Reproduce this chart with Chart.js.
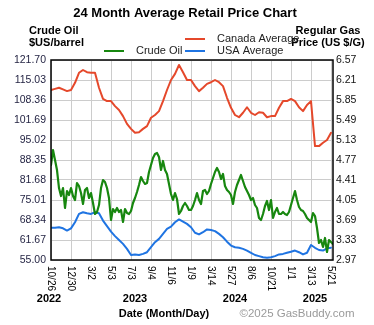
<!DOCTYPE html>
<html>
<head>
<meta charset="utf-8">
<title>24 Month Average Retail Price Chart</title>
<script src="https://cdn.jsdelivr.net/npm/chart.js@4.4.1/dist/chart.umd.min.js"></script>
<style>
  html, body { margin: 0; padding: 0; background: #fff; }
  canvas { display: block; }
</style>
</head>
<body>
<canvas id="chart" width="374" height="325"></canvas>
<script>
// date labels along the bottom, one every 10 steps of the x index
const dateLabels = ['10/26', '12/30', '3/2', '5/3', '7/3', '9/4', '11/6', '1/9', '3/14', '5/27', '8/6', '10/21', '1/1', '3/13', '5/21']
const yearLabels = ['2022', '2023', '2024', '2025']
const yearAt = [-1, 42, 92, 132]

const oilTicks = [55.00, 61.67, 68.34, 75.01, 81.68, 88.35, 95.02, 101.69, 108.36, 115.03, 121.70]
const gasTicks = [2.97, 3.33, 3.69, 4.05, 4.41, 4.77, 5.13, 5.49, 5.85, 6.21, 6.57]

// crude oil, $US/barrel, one value per x step
const crudeOil = [
  86.68, 91.68, 88.35, 85.01, 79.01, 76.34, 79.01, 72.34, 78.01, 76.68,
  79.01, 76.34, 75.01, 80.68, 79.68, 77.34, 73.68, 78.34, 79.01, 75.68,
  77.34, 74.01, 70.34, 71.01, 73.34, 79.01, 81.68, 81.01, 79.01, 75.68,
  68.34, 72.01, 71.01, 72.34, 71.01, 71.67, 67.67, 72.01, 70.67, 70.34,
  71.34, 74.01, 75.68, 77.68, 80.01, 82.68, 81.35, 80.35, 80.68, 84.35,
  86.68, 89.02, 90.35, 90.68, 89.35, 85.01, 88.02, 85.01, 83.68, 80.35,
  77.01, 75.01, 77.34, 75.34, 70.34, 71.34, 73.01, 74.01, 73.01, 71.67,
  71.67, 73.01, 75.01, 77.34, 75.01, 73.68, 78.01, 78.34, 77.01, 78.01,
  80.35, 82.35, 84.35, 85.68, 84.35, 82.01, 83.68, 79.68, 78.34, 77.68,
  76.68, 73.68, 77.68, 80.01, 81.68, 83.35, 81.35, 79.35, 78.01, 76.68,
  75.01, 75.68, 73.34, 72.34, 69.01, 68.34, 70.34, 73.01, 74.68, 71.67,
  75.01, 69.01, 71.01, 72.34, 70.34, 70.34, 71.01, 70.34, 70.01, 71.01,
  73.34, 75.68, 78.01, 75.01, 72.68, 71.67, 71.34, 70.34, 69.01, 68.34,
  67.67, 70.67, 69.67, 65.67, 60.67, 61.67, 59.34, 62.34, 57.67, 61.67,
  61.00, 60.34
]

// regular gas, US $/G, one value every 2 x steps
const canadaAvg = [
  6.03, 6.05, 6.07, 6.04, 6.01, 6.03, 6.16, 6.34, 6.39, 6.35,
  6.34, 6.34, 6.07, 5.87, 5.83, 5.83, 5.74, 5.67, 5.56, 5.42,
  5.33, 5.26, 5.27, 5.33, 5.38, 5.53, 5.58, 5.65, 5.83, 6.03,
  6.21, 6.32, 6.48, 6.35, 6.21, 6.21, 6.10, 6.01, 6.07, 6.14,
  6.17, 6.21, 6.17, 6.10, 5.89, 5.71, 5.58, 5.54, 5.62, 5.72,
  5.62, 5.58, 5.63, 5.62, 5.54, 5.56, 5.56, 5.71, 5.83, 5.83,
  5.87, 5.83, 5.72, 5.65, 5.76, 5.83, 5.02, 5.02, 5.08, 5.13,
  5.26
]
const usaAvg = [
  3.55, 3.55, 3.56, 3.54, 3.50, 3.54, 3.65, 3.80, 3.83, 3.81,
  3.80, 3.83, 3.81, 3.68, 3.58, 3.48, 3.40, 3.33, 3.26, 3.17,
  3.06, 3.07, 3.06, 3.08, 3.11, 3.20, 3.29, 3.35, 3.44, 3.53,
  3.57, 3.65, 3.70, 3.66, 3.62, 3.56, 3.46, 3.43, 3.47, 3.52,
  3.51, 3.49, 3.44, 3.38, 3.30, 3.23, 3.20, 3.19, 3.17, 3.14,
  3.10, 3.06, 3.04, 3.02, 3.01, 3.02, 3.04, 3.07, 3.08, 3.10,
  3.12, 3.14, 3.11, 3.07, 3.10, 3.24, 3.19, 3.15, 3.14, 3.18,
  3.19
]

const FONT = '"Liberation Sans", Arial, Helvetica, sans-serif'

// titles, legend, date labels and the plot frame
const textPlugin = {
  id: 'gbText',
  afterDraw(chart) {
    const { ctx, chartArea: a, scales } = chart
    ctx.save()

    ctx.strokeStyle = '#000'
    ctx.lineWidth = 1.5
    ctx.strokeRect(a.left, a.top, a.right - a.left, a.bottom - a.top)

    ctx.fillStyle = '#000'
    ctx.textBaseline = 'middle'
    ctx.textAlign = 'center'
    ctx.font = 'bold 13px ' + FONT
    ctx.fillText('24 Month Average Retail Price Chart', 185, 13)

    ctx.font = 'bold 11px ' + FONT
    ctx.textAlign = 'left'
    ctx.fillText('Crude Oil', 29, 31)
    ctx.fillText('$US/barrel', 29, 43)
    ctx.textAlign = 'center'
    ctx.fillText('Regular Gas', 328, 31)
    ctx.fillText('Price (US $/G)', 328, 43)

    // legend
    const ds = chart.data.datasets
    const items = [
      { d: ds[1], x: 185, y: 39 },
      { d: ds[2], x: 185, y: 51 },
      { d: ds[0], x: 104, y: 51 }
    ]
    ctx.font = '11px ' + FONT
    ctx.textAlign = 'left'
    items.forEach(it => {
      ctx.strokeStyle = it.d.borderColor
      ctx.lineWidth = 2
      ctx.beginPath()
      ctx.moveTo(it.x, it.y)
      ctx.lineTo(it.x + 20, it.y)
      ctx.stroke()
      ctx.fillStyle = '#222'
      ctx.fillText(it.d.label, it.x + 32, it.y - 0.5)
    })

    // rotated month/day labels
    ctx.fillStyle = '#000'
    ctx.font = '10px ' + FONT
    dateLabels.forEach((lab, k) => {
      const x = scales.x.getPixelForValue(k * 10)
      ctx.save()
      ctx.translate(x, 266)
      ctx.rotate(Math.PI / 2)
      ctx.textAlign = 'left'
      ctx.fillText(lab, 0, 0)
      ctx.restore()
    })

    ctx.font = 'bold 11px ' + FONT
    ctx.textAlign = 'center'
    yearLabels.forEach((y, k) => {
      ctx.fillText(y, scales.x.getPixelForValue(yearAt[k]), 299)
    })
    ctx.fillText('Date (Month/Day)', 164, 314)

    ctx.fillStyle = '#9a9a9a'
    ctx.font = '11.5px ' + FONT
    ctx.fillText('\u00a92025 GasBuddy.com', 297, 314)

    ctx.restore()
  }
}

new Chart(document.getElementById('chart'), {
  type: 'line',
  data: {
    datasets: [
      {
        label: 'Crude Oil',
        data: crudeOil.map((v, k) => ({ x: k, y: v })),
        yAxisID: 'oil',
        borderColor: '#17870f',
        borderWidth: 2.2
      },
      {
        label: 'Canada Average',
        data: canadaAvg.map((v, k) => ({ x: k * 2, y: v })),
        yAxisID: 'gas',
        borderColor: '#e5482b',
        borderWidth: 2
      },
      {
        label: 'USA Average',
        data: usaAvg.map((v, k) => ({ x: k * 2, y: v })),
        yAxisID: 'gas',
        borderColor: '#1f74e2',
        borderWidth: 2
      }
    ]
  },
  options: {
    responsive: false,
    animation: false,
    layout: { padding: { top: 60, bottom: 65, left: 0, right: 0 } },
    elements: {
      point: { radius: 0 },
      line: { tension: 0, borderCapStyle: 'round', borderJoinStyle: 'round' }
    },
    plugins: {
      legend: { display: false },
      title: { display: false },
      tooltip: { enabled: false }
    },
    scales: {
      x: {
        type: 'linear',
        min: 0,
        max: 141,
        afterBuildTicks: s => { s.ticks = dateLabels.map((_, k) => ({ value: k * 10 })) },
        ticks: { display: false },
        grid: { color: '#cccccc', drawTicks: false },
        border: { display: false },
        afterFit: s => { s.height = 0 }
      },
      oil: {
        position: 'left',
        min: 55,
        max: 121.7,
        afterBuildTicks: s => { s.ticks = oilTicks.map(v => ({ value: v })) },
        ticks: {
          padding: 5,
          color: '#1f1f3f',
          font: { family: FONT, size: 10.5 },
          callback: v => v.toFixed(2)
        },
        grid: { color: '#cccccc', drawTicks: false },
        border: { display: false },
        afterFit: s => { s.width = 51 }
      },
      gas: {
        position: 'right',
        min: 2.97,
        max: 6.57,
        afterBuildTicks: s => { s.ticks = gasTicks.map(v => ({ value: v })) },
        ticks: {
          padding: 3,
          color: '#111',
          font: { family: FONT, size: 10.5 },
          callback: v => v.toFixed(2)
        },
        grid: { drawOnChartArea: false, drawTicks: false },
        border: { display: false },
        afterFit: s => { s.width = 41 }
      }
    }
  },
  plugins: [textPlugin]
})
</script>
</body>
</html>
